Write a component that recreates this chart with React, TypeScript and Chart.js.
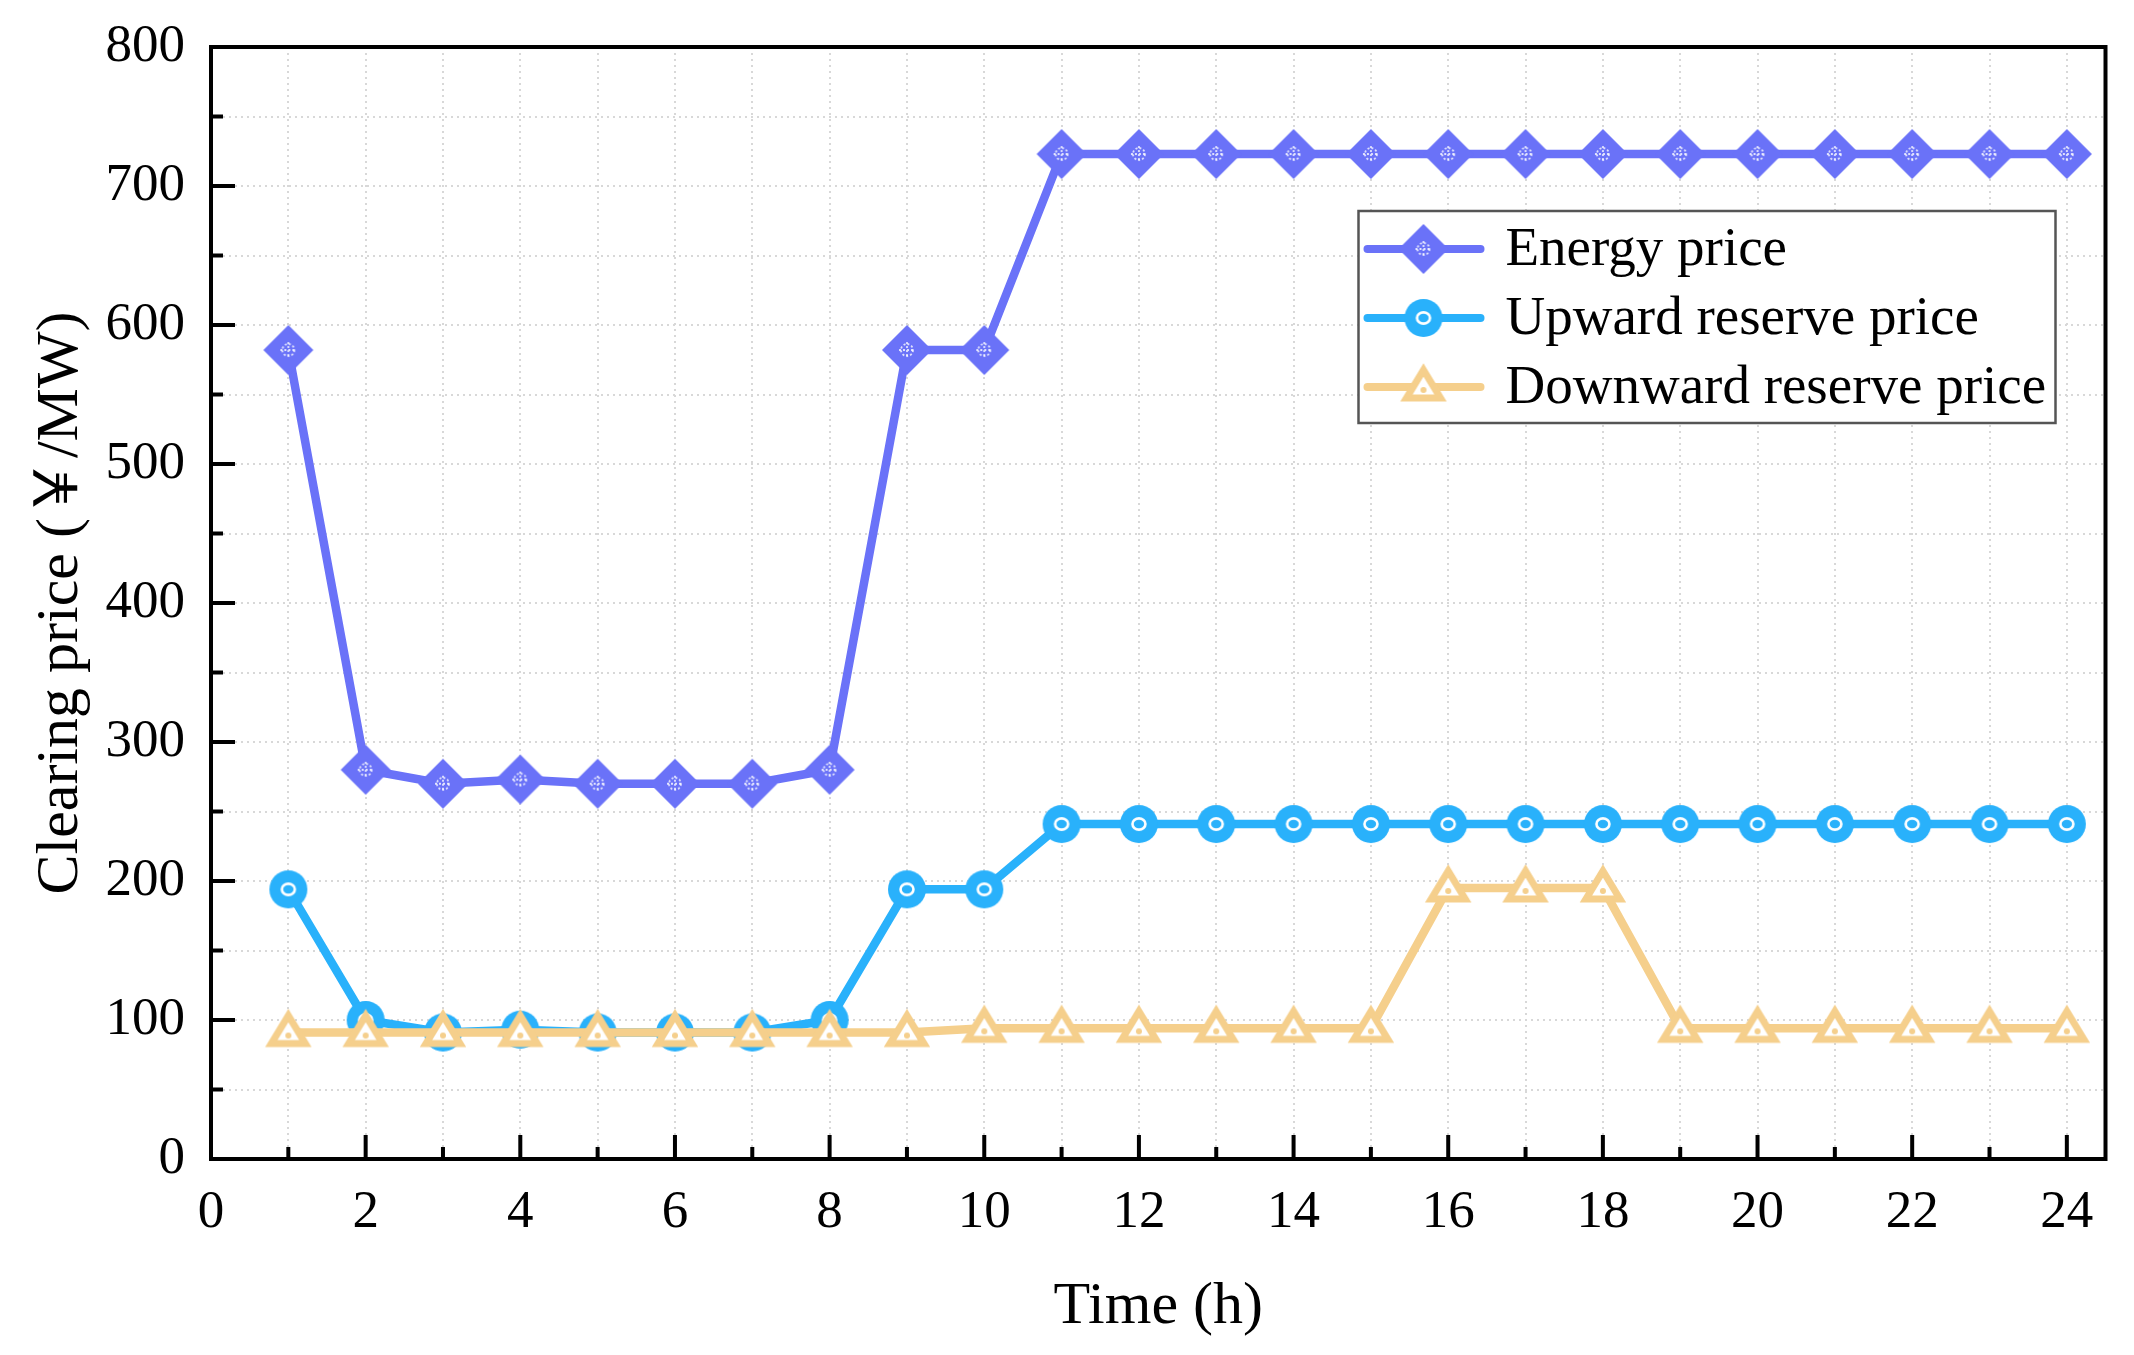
import { useEffect, useRef } from 'react';
import { Chart, registerables } from 'chart.js';

Chart.register(...registerables);

// Hours 1..24
const hours = [1, 2, 3, 4, 5, 6, 7, 8, 9, 10, 11, 12, 13, 14, 15, 16, 17, 18, 19, 20, 21, 22, 23, 24];

// Clearing prices (¥/MW)
const energyPrice = [582, 280, 270, 273, 270, 270, 270, 280, 582, 582, 723, 723, 723, 723, 723, 723, 723, 723, 723, 723, 723, 723, 723, 723];
const upwardPrice = [194, 100, 91, 93, 91, 91, 91, 100, 194, 194, 241, 241, 241, 241, 241, 241, 241, 241, 241, 241, 241, 241, 241, 241];
const downwardPrice = [91, 91, 91, 91, 91, 91, 91, 91, 91, 94, 94, 94, 94, 94, 94, 195, 195, 195, 94, 94, 94, 94, 94, 94];

const seriesNames = ['Energy price', 'Upward reserve price', 'Downward reserve price'];
const seriesColors = ['#6a72f8', '#29b1fb', '#f5cf8c'];

// axis ticks
const xTickValues = [0, 1, 2, 3, 4, 5, 6, 7, 8, 9, 10, 11, 12, 13, 14, 15, 16, 17, 18, 19, 20, 21, 22, 23, 24];
const yTickValues = [0, 50, 100, 150, 200, 250, 300, 350, 400, 450, 500, 550, 600, 650, 700, 750, 800];

const FONT = "'Liberation Serif', 'Times New Roman', 'Noto Sans CJK SC', serif";

function makeMarker(kind: 'diamond' | 'circle' | 'triangle', color: string) {
    const c = document.createElement('canvas');
    c.width = 60;
    c.height = 60;
    const g = c.getContext('2d')!;
    const m = 30;
    if (kind === 'diamond') {
        g.fillStyle = color;
        g.beginPath();
        g.moveTo(m, m - 25);
        g.lineTo(m + 25, m);
        g.lineTo(m, m + 25);
        g.lineTo(m - 25, m);
        g.closePath();
        g.fill();
        // little dotted cross inside
        g.strokeStyle = 'rgba(255,255,255,0.8)';
        g.lineWidth = 1.8;
        g.setLineDash([2, 2]);
        g.beginPath();
        g.arc(m, m, 6, 0, Math.PI * 2);
        g.stroke();
        g.beginPath();
        g.moveTo(m - 8, m);
        g.lineTo(m + 8, m);
        g.moveTo(m, m - 8);
        g.lineTo(m, m + 8);
        g.stroke();
    } else if (kind === 'circle') {
        g.fillStyle = color;
        g.beginPath();
        g.arc(m, m, 19, 0, Math.PI * 2);
        g.fill();
        g.strokeStyle = '#ffffff';
        g.lineWidth = 2.6;
        g.beginPath();
        g.ellipse(m, m, 6.5, 5.6, 0, 0, Math.PI * 2);
        g.stroke();
    } else {
        g.fillStyle = '#ffffff';
        g.strokeStyle = color;
        g.lineWidth = 7;
        g.lineJoin = 'miter';
        g.beginPath();
        g.moveTo(m, m - 17);
        g.lineTo(m + 17, m + 11);
        g.lineTo(m - 17, m + 11);
        g.closePath();
        g.fill();
        g.stroke();
        g.fillStyle = color;
        g.beginPath();
        g.arc(m, m + 3, 3, 0, Math.PI * 2);
        g.fill();
    }
    return c;
}

const frameTicksLegend = {
    id: 'frameTicksLegend',
    afterDraw(chart: any) {
        const { ctx, chartArea: a, scales } = chart;
        const xs = scales.x;
        const ys = scales.y;
        ctx.save();

        // inward tick marks
        ctx.strokeStyle = '#000';
        ctx.lineWidth = 4;
        ctx.beginPath();
        xTickValues.forEach((v) => {
            const px = xs.getPixelForValue(v);
            const len = v % 2 === 0 ? 24 : 12;
            ctx.moveTo(px, a.bottom);
            ctx.lineTo(px, a.bottom - len);
        });
        yTickValues.forEach((v) => {
            const py = ys.getPixelForValue(v);
            const len = v % 100 === 0 ? 24 : 12;
            ctx.moveTo(a.left, py);
            ctx.lineTo(a.left + len, py);
        });
        ctx.stroke();

        // frame
        ctx.strokeRect(a.left, a.top, a.right - a.left, a.bottom - a.top);

        // legend box
        const boxRight = a.right - 50;
        const boxLeft = boxRight - 697;
        const boxTop = a.top + 164;
        const boxH = 212;
        ctx.fillStyle = '#fff';
        ctx.fillRect(boxLeft, boxTop, 697, boxH);
        ctx.strokeStyle = '#555';
        ctx.lineWidth = 2.5;
        ctx.strokeRect(boxLeft, boxTop, 697, boxH);

        ctx.font = `55px ${FONT}`;
        ctx.textBaseline = 'middle';
        ctx.textAlign = 'left';
        chart.data.datasets.forEach((ds: any, i: number) => {
            const cy = boxTop + 38 + i * 69;
            ctx.strokeStyle = ds.borderColor;
            ctx.lineWidth = 8;
            ctx.lineCap = 'round';
            ctx.beginPath();
            ctx.moveTo(boxLeft + 9, cy);
            ctx.lineTo(boxLeft + 122, cy);
            ctx.stroke();
            const img = ds.pointStyle as HTMLCanvasElement;
            ctx.drawImage(img, boxLeft + 65 - img.width / 2, cy - img.height / 2);
            ctx.fillStyle = '#000';
            ctx.fillText(ds.label, boxLeft + 147, cy + 2);
        });
        ctx.restore();
    },
};

function App() {
    const canvasRef = useRef<HTMLCanvasElement>(null);
    const chartRef = useRef<Chart | null>(null);

    useEffect(() => {
        if (!canvasRef.current) return;
        if (chartRef.current) chartRef.current.destroy();

        const series = [energyPrice, upwardPrice, downwardPrice];
        const markers = [
            makeMarker('diamond', seriesColors[0]),
            makeMarker('circle', seriesColors[1]),
            makeMarker('triangle', seriesColors[2]),
        ];
        const tickFont = { family: FONT, size: 53 };

        chartRef.current = new Chart(canvasRef.current, {
            type: 'line',
            data: {
                datasets: series.map((vals, i) => ({
                    label: seriesNames[i],
                    data: hours.map((h, j) => ({ x: h, y: vals[j] })),
                    borderColor: seriesColors[i],
                    backgroundColor: seriesColors[i],
                    borderWidth: 8.5,
                    tension: 0,
                    pointStyle: markers[i],
                    pointRadius: 20,
                    order: 2 - i,
                })),
            },
            options: {
                animation: false,
                responsive: false,
                layout: { padding: { top: 47, right: 23, left: 0, bottom: 0 } },
                plugins: { legend: { display: false }, tooltip: { enabled: false } },
                scales: {
                    x: {
                        type: 'linear',
                        min: 0,
                        max: 24.5,
                        afterBuildTicks: (s: any) => { s.ticks = xTickValues.map((value) => ({ value })); },
                        afterFit: (s: any) => {
                            s.height = 196;
                            s.paddingLeft = 0;
                            s.paddingRight = 0;
                        },
                        grid: { color: '#d8d8d8', lineWidth: 2, drawTicks: false },
                        border: { display: false, dash: [2, 4] },
                        ticks: {
                            autoSkip: false,
                            maxRotation: 0,
                            padding: 22,
                            color: '#000',
                            font: tickFont,
                            callback: (v: any) => (Number(v) % 2 === 0 ? String(v) : ''),
                        },
                        title: {
                            display: true,
                            text: 'Time (h)',
                            color: '#000',
                            font: { family: FONT, size: 60 },
                            padding: { top: 0, bottom: 12 },
                        },
                    },
                    y: {
                        type: 'linear',
                        min: 0,
                        max: 800,
                        afterBuildTicks: (s: any) => { s.ticks = yTickValues.map((value) => ({ value })); },
                        afterFit: (s: any) => {
                            s.width = 211;
                            s.paddingTop = 0;
                            s.paddingBottom = 0;
                        },
                        grid: { color: '#d8d8d8', lineWidth: 2, drawTicks: false },
                        border: { display: false, dash: [2, 4] },
                        ticks: {
                            autoSkip: false,
                            padding: 26,
                            color: '#000',
                            font: tickFont,
                            callback: (v: any) => (Number(v) % 100 === 0 ? String(v) : ''),
                        },
                        title: {
                            display: true,
                            text: 'Clearing price (￥/MW)',
                            color: '#000',
                            font: { family: FONT, size: 60 },
                            padding: { top: 25, bottom: 0 },
                        },
                    },
                },
            },
            plugins: [frameTicksLegend],
        });

        return () => {
            if (chartRef.current) {
                chartRef.current.destroy();
                chartRef.current = null;
            }
        };
    }, []);

    return (
        <div style={{ position: 'absolute', left: 0, top: 0, width: 2134, height: 1355, background: '#fff' }}>
            <canvas ref={canvasRef} width={2134} height={1355} style={{ width: 2134, height: 1355 }} />
        </div>
    );
}

export default App;
